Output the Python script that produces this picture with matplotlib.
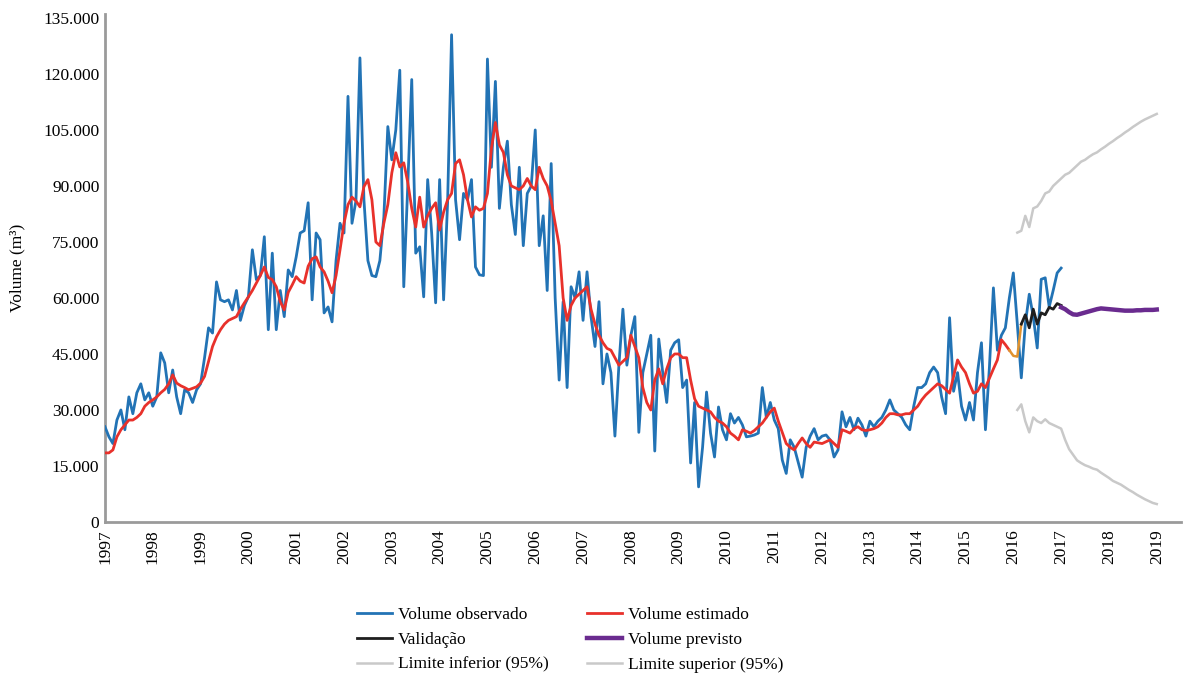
import numpy as np
import matplotlib
matplotlib.use("Agg")
import matplotlib.pyplot as plt
from matplotlib.ticker import FuncFormatter, MultipleLocator

plt.rcParams['font.family'] = ['Liberation Serif', 'DejaVu Serif']

# monthly series, thousands of m3, first month = Jan 1997
start_year = 1997
observed = [
    25.5, 22.8, 21, 27.3, 30, 24.7, 33.5, 29, 34.6, 37, 32.7, 34.6,          # 1997
    31, 33.5, 45.3, 42.6, 34.6, 40.7, 33.5, 29, 35.4, 34.6, 32, 35.4,        # 1998
    37, 44, 52, 50.6, 64.3, 59.5, 59, 59.5, 56.8, 62, 54, 58,                # 1999
    60.3, 72.9, 64.9, 66, 76.4, 51.5, 72, 51.5, 62, 55, 67.5, 65.7,          # 2000
    71, 77.4, 78, 85.5, 59.5, 77.4, 75.6, 56, 57.6, 53.6, 70, 80,            # 2001
    77.4, 114, 80, 86, 124.3, 86.3, 70, 66, 65.7, 70, 81.7, 105.9,           # 2002
    97, 105, 121, 63, 90, 118.5, 72, 73.7, 60.3, 91.7, 77.4, 58.7,           # 2003
    91.7, 59.5, 85.5, 130.5, 86.3, 75.6, 88, 86.3, 91.7, 68.3, 66.2, 66,     # 2004
    124, 95, 118, 84, 95, 102, 85, 77, 95, 74, 88, 90,                       # 2005
    105, 74, 82, 62, 96, 60, 38, 59, 36, 63, 60, 67,                         # 2006
    54, 67, 55, 47, 59, 37, 45, 40, 23, 42, 57, 42,                          # 2007
    50, 55, 24, 40, 45, 50, 19, 49, 40, 32, 46, 48,                          # 2008
    48.8, 36, 38, 15.8, 32, 9.4, 20, 34.8, 23.8, 17.4, 30.8, 24.7,           # 2009
    22, 29, 26.5, 28, 26, 22.8, 23, 23.3, 23.8, 36, 28, 32,                  # 2010
    27.3, 25, 16.6, 13, 22, 20, 16, 12, 20, 23, 25, 22,                      # 2011
    23, 23.3, 22, 17.4, 19.3, 29.5, 25.5, 28, 24.7, 27.8, 26, 23,            # 2012
    27, 25.5, 27, 28, 30, 32.7, 30, 29, 28, 26, 24.7, 31,                    # 2013
    36, 36, 37, 40, 41.5, 40, 33.5, 29, 54.7, 35, 40, 31,                    # 2014
    27.3, 32, 27.3, 40, 48, 24.7, 41.5, 62.7, 46, 50, 52, 60,                # 2015
    66.7, 53, 38.6, 53, 61, 55, 46.6, 65, 65.4, 57.6, 62, 66.7,              # 2016
    68,                                                                      # Jan 2017
]

estimated = [
    18.5, 18.5, 19.3, 22.8, 24.7, 26, 27.3, 27.3, 28, 29, 31, 32,
    32.7, 33.5, 34.6, 35.5, 37, 39.4, 37.2, 36.5, 36, 35.4, 35.8, 36.2,
    37.2, 39, 43, 47, 49.6, 51.5, 53, 54, 54.5, 55, 57, 58.7,
    60.3, 62, 64, 66, 68.3, 65.5, 64.9, 63, 59, 56.8, 61.5, 63.5,
    65.7, 64.5, 64, 68.5, 70.5, 71, 68.3, 67, 64.5, 61.4, 66, 72.9,
    80, 85, 87, 86, 84.4, 89.8, 91.7, 86.3, 75, 74, 80, 85,
    93.5, 98.9, 95.1, 96.2, 91, 84, 79, 87, 79, 82, 84, 85.5,
    78.2, 83, 86.3, 88, 96, 97, 93, 86.3, 81.7, 84.4, 83.5, 84,
    88, 100, 107, 101, 99, 93, 90, 89.5, 89, 90, 92, 90,
    89, 95, 92, 90, 86, 80, 74, 60, 54, 58, 60, 61,
    62, 63, 57, 53, 50, 48, 46.5, 46, 44, 42, 43, 44,
    50, 47, 44, 36, 32, 30, 38, 41, 37, 41, 44, 45,
    45, 44, 44, 38, 33, 31, 30.5, 30, 29.5, 28, 27, 26.5,
    25.5, 23.8, 23, 22, 24.7, 24.3, 23.8, 24.5, 25.5, 26.5, 28, 29.5,
    30.5, 27, 24, 21, 20, 19.3, 21, 22.5, 21, 20, 21.4, 21.2,
    21, 21.5, 22, 21, 20, 24.7, 24.3, 23.8, 25, 25.5, 24.7, 24.5,
    24.7, 25, 25.5, 26.5, 28, 29, 29, 28.7, 28.7, 29, 29, 30,
    31, 32.7, 34, 35, 36, 37, 36.5, 35.5, 34.5, 39, 43.4, 41.5,
    40, 37, 34.5, 35, 37, 36, 38.5, 41, 43.4, 48.8, 47.5, 46,
]

# estimated values running into the validation window (Dec 2015 - Mar 2016)
estimated_tail_start = 227
estimated_tail = [46, 44.5, 44.3, 53]

validation_start = 230
validation = [53, 55.5, 52, 57, 53, 56, 55.5, 57.5, 57, 58.5, 58]

forecast_start = 240
forecast = [57.5, 57, 56.2, 55.6, 55.5, 55.8, 56.1, 56.4, 56.7, 57, 57.2, 57.1,
            57, 56.9, 56.8, 56.7, 56.6, 56.6, 56.6, 56.7, 56.7, 56.8, 56.8, 56.8,
            56.9]

limits_start = 229
lower_limit = [30, 31.5, 27, 24, 28, 27, 26.5, 27.5, 26.5, 26, 25.5, 25,
               22, 19.5, 18, 16.5, 15.8, 15.2, 14.8, 14.3, 14, 13.2, 12.5, 11.8,
               11, 10.5, 10, 9.3, 8.6, 8, 7.3, 6.7, 6.1, 5.6, 5.1, 4.8]
upper_limit = [77.5, 78, 82, 79, 84, 84.5, 86, 88, 88.5, 90, 91, 92,
               93, 93.5, 94.5, 95.5, 96.5, 97, 97.8, 98.5, 99, 99.8, 100.5, 101.3,
               102, 102.8, 103.5, 104.3, 105, 105.8, 106.5, 107.2, 107.8, 108.3, 108.8, 109.3]

years = list(range(1997, 2020))


def t_axis(first_month, values):
    # month index -> decimal year
    return start_year + (first_month + np.arange(len(values))) / 12.0


def m3(values):
    return np.array(values) * 1000


fig = plt.figure(figsize=(11.86, 6.77), dpi=100)
ax = fig.add_axes([0.0885, 0.229, 0.907, 0.75])

c_obs = '#2273b5'
c_est = '#e8312b'
c_val = '#1e1e1e'
c_prev = '#6a2b8f'
c_lim = '#c9c9c9'

h_obs, = ax.plot(t_axis(0, observed), m3(observed), color=c_obs, lw=2.0, zorder=3)
h_est, = ax.plot(t_axis(0, estimated), m3(estimated), color=c_est, lw=2.0, zorder=4)
ax.plot(t_axis(estimated_tail_start, estimated_tail), m3(estimated_tail),
        color='#e0922e', lw=1.8, zorder=4)
h_val, = ax.plot(t_axis(validation_start, validation), m3(validation), color=c_val, lw=2.0, zorder=5)
h_prev, = ax.plot(t_axis(forecast_start, forecast), m3(forecast), color=c_prev, lw=3.2, zorder=5)
h_inf, = ax.plot(t_axis(limits_start, lower_limit), m3(lower_limit), color=c_lim, lw=1.8, zorder=2)
h_sup, = ax.plot(t_axis(limits_start, upper_limit), m3(upper_limit), color=c_lim, lw=1.8, zorder=2)

ax.set_xlim(1997, 2019.5)
ax.set_ylim(0, 136000)
ax.set_xticks(years)
ax.set_xticklabels([str(y) for y in years], rotation=90, fontsize=12.5)
ax.yaxis.set_major_locator(MultipleLocator(15000))
ax.yaxis.set_major_formatter(FuncFormatter(lambda v, p: f"{v:,.0f}".replace(',', '.')))
ax.tick_params(axis='y', labelsize=12.5, length=0, pad=4)
ax.tick_params(axis='x', length=0, pad=5)
ax.set_ylabel('Volume (m³)', fontsize=12.5, labelpad=13)

for side in ('top', 'right'):
    ax.spines[side].set_visible(False)
for side in ('left', 'bottom'):
    ax.spines[side].set_color('#9a9a9a')
    ax.spines[side].set_linewidth(2)

handles = [h_obs, h_val, h_inf, h_est, h_prev, h_sup]
labels = ['Volume observado', 'Validação', 'Limite inferior (95%)',
          'Volume estimado', 'Volume previsto', 'Limite superior (95%)']
fig.legend(handles, labels, ncol=2, loc='upper left', bbox_to_anchor=(0.295, 0.114),
           frameon=False, fontsize=12.5, handlelength=2.0, handletextpad=0.35,
           columnspacing=2.25, labelspacing=0.5, borderaxespad=0)

fig.savefig('out.png', dpi=100)
